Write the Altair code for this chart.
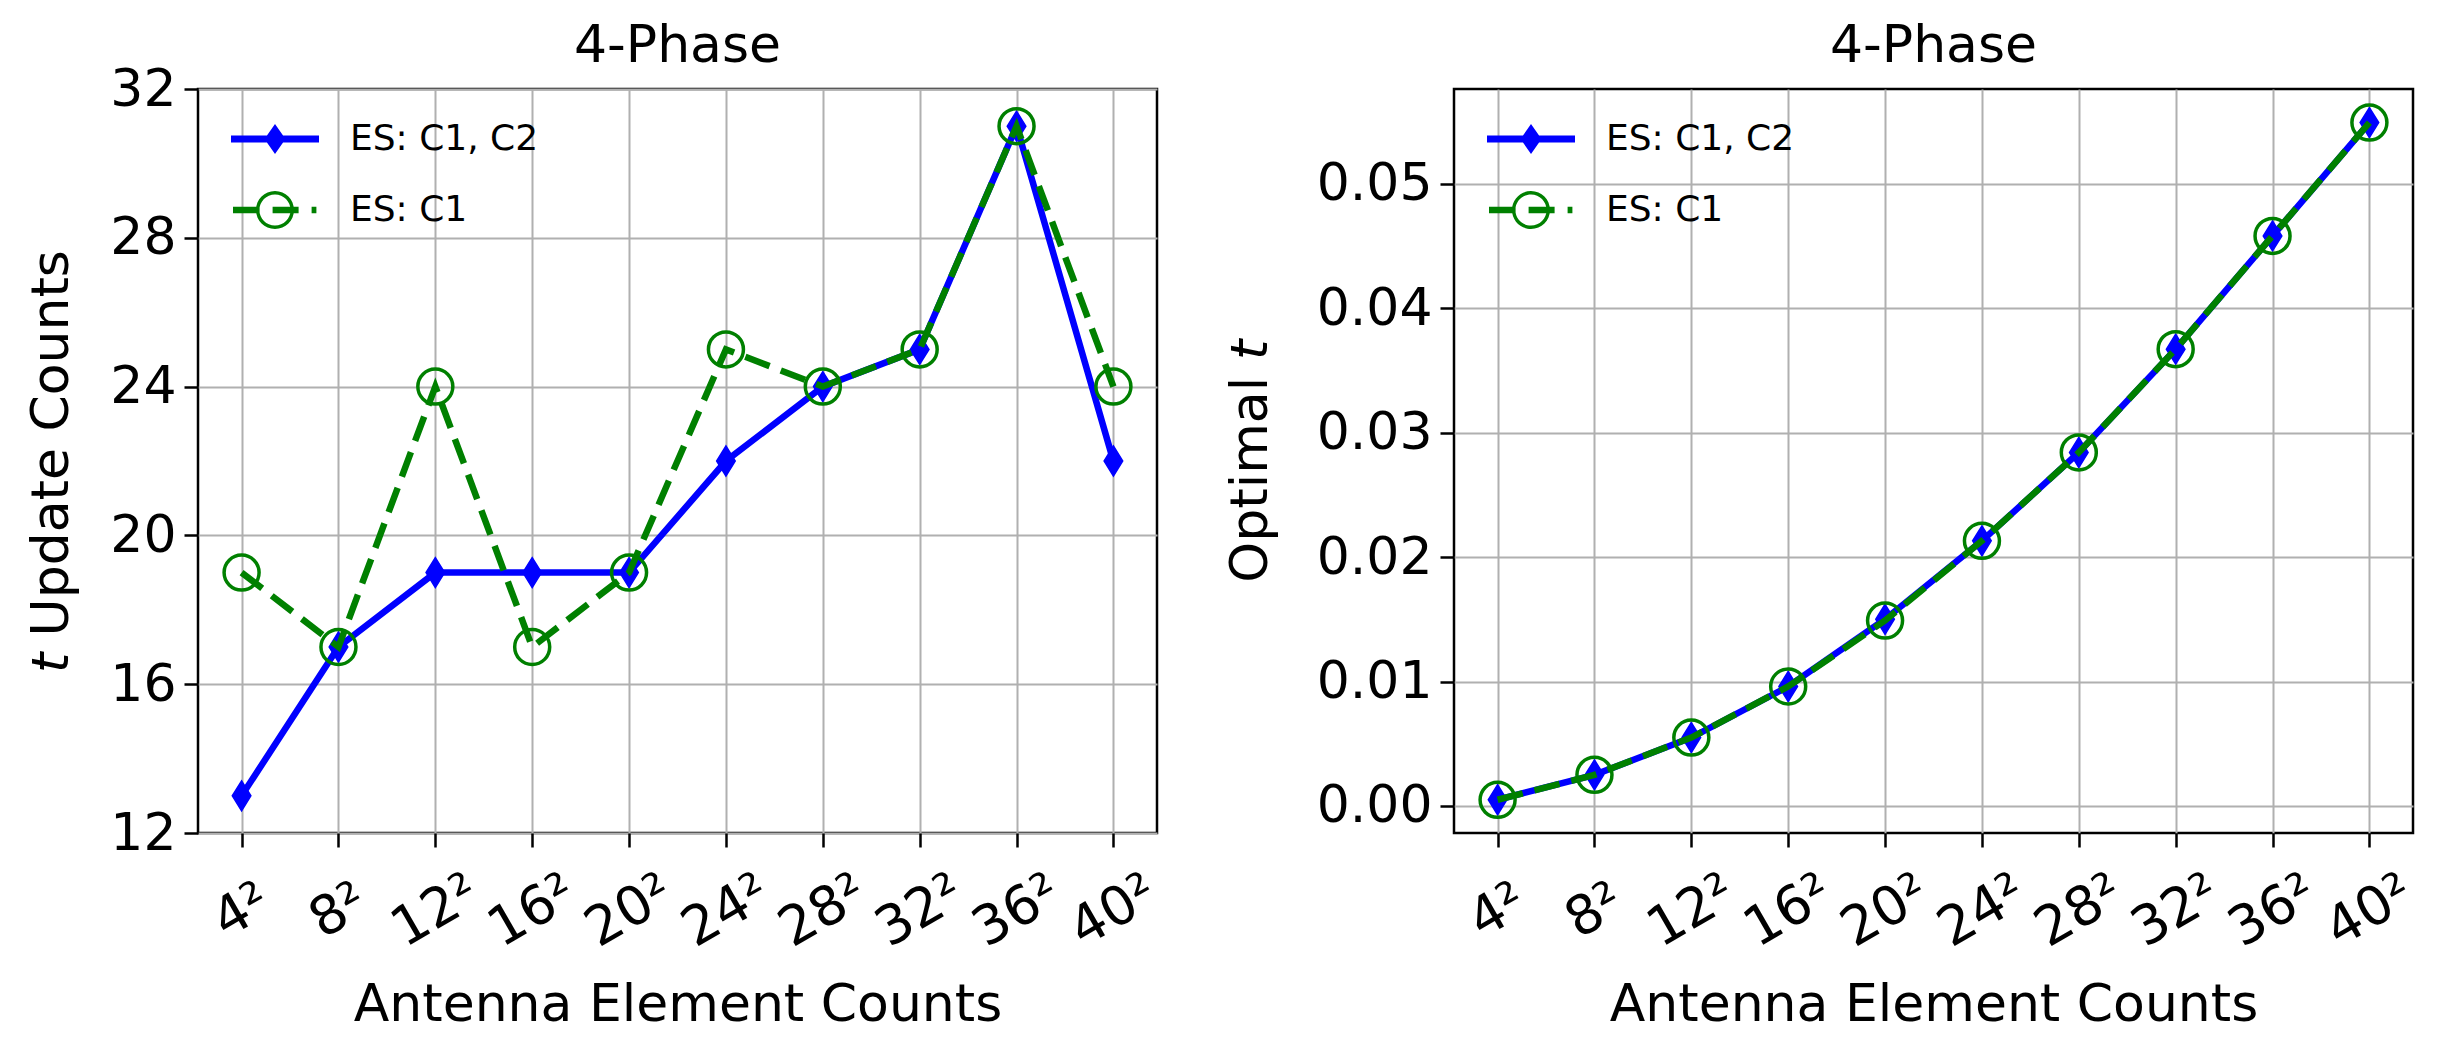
import altair as alt
import pandas as pd

# ---------------- data ----------------
x_labels = ["4²", "8²", "12²", "16²", "20²", "24²", "28²", "32²", "36²", "40²"]
series_names = ["ES: C1, C2", "ES: C1"]

update_counts_c1c2 = [13, 17, 19, 19, 19, 22, 24, 25, 31, 22]
update_counts_c1 = [19, 17, 24, 17, 19, 25, 24, 25, 31, 24]

optimal_t_c1c2 = [0.0005, 0.0025, 0.0055, 0.0096, 0.0150, 0.0213, 0.0284, 0.0367, 0.0458, 0.0549]
optimal_t_c1 = [0.0005, 0.0025, 0.0055, 0.0096, 0.0149, 0.0213, 0.0284, 0.0367, 0.0458, 0.0549]

left_ticks = [12, 16, 20, 24, 28, 32]
right_ticks = [0.0, 0.01, 0.02, 0.03, 0.04, 0.05]

BLUE = "#0000ff"
GREEN = "#008000"
FONT = "DejaVu Sans"
W, H = 959, 744


def frame(values_a, values_b):
    rows = []
    for i, lab in enumerate(x_labels):
        rows.append({"idx": i, "label": lab, "series": series_names[0], "val": values_a[i]})
        rows.append({"idx": i, "label": lab, "series": series_names[1], "val": values_b[i]})
    return pd.DataFrame(rows)


def f(v):
    return f"{v:.3f}".rstrip("0").rstrip(".") if v != 0 else "0"


def circle(r, cw=True):
    k = 0.5523 * r
    if cw:
        return (f"M{f(r)},0C{f(r)},{f(k)} {f(k)},{f(r)} 0,{f(r)}"
                f"C{f(-k)},{f(r)} {f(-r)},{f(k)} {f(-r)},0"
                f"C{f(-r)},{f(-k)} {f(-k)},{f(-r)} 0,{f(-r)}"
                f"C{f(k)},{f(-r)} {f(r)},{f(-k)} {f(r)},0Z")
    return (f"M{f(r)},0C{f(r)},{f(-k)} {f(k)},{f(-r)} 0,{f(-r)}"
            f"C{f(-k)},{f(-r)} {f(-r)},{f(-k)} {f(-r)},0"
            f"C{f(-r)},{f(k)} {f(-k)},{f(r)} 0,{f(r)}"
            f"C{f(k)},{f(r)} {f(r)},{f(k)} {f(r)},0Z")


def rect(x0, x1, h):
    return f"M{f(x0)},{f(-h)}H{f(x1)}V{f(h)}H{f(x0)}Z"


DIAMOND = "M0,-1L0.62,0L0,1L-0.62,0Z"
LEG_BLUE = rect(-2.2, 2.2, 0.17) + "M0,-0.75L0.525,0L0,0.75L-0.525,0Z"
LEG_GREEN = (rect(-2.1, -0.77, 0.16) + rect(-0.12, 1.18, 0.16) + rect(1.83, 2.07, 0.16)
             + circle(0.95, True) + circle(0.78, False))

label_expr = "[" + ",".join("'" + s + "'" for s in x_labels) + "][datum.value]"


def panel(df, y_title, y_domain, y_ticks, y_fmt, title_x, title_dy):
    x = alt.X(
        "idx:Q",
        scale=alt.Scale(domain=[-0.45, 9.45], nice=False, zero=False),
        axis=alt.Axis(
            values=list(range(10)), labelExpr=label_expr, title="Antenna Element Counts",
            labelAngle=330, labelAlign="center", labelBaseline="middle", labelPadding=64,
            labelFontSize=54, labelOverlap=False, labelFlush=False,
            titleY=187, titleBaseline="alphabetic",
        ),
    )
    y = alt.Y(
        "val:Q",
        scale=alt.Scale(domain=y_domain, nice=False, zero=False),
        axis=alt.Axis(
            values=y_ticks, format=y_fmt, title=y_title, titleX=title_x, titleY=H / 2,
            titleAngle=270, titleAlign="center", titleBaseline="middle", labelPadding=8,
        ),
    )
    base = alt.Chart(df).encode(x=x, y=y)
    s0 = alt.datum.series == series_names[0]
    s1 = alt.datum.series == series_names[1]
    blue_line = base.transform_filter(s0).mark_line(color=BLUE, strokeWidth=6.5)
    blue_pts = base.transform_filter(s0).mark_point(
        shape=DIAMOND, filled=True, fill=BLUE, stroke=BLUE, strokeWidth=1.5, size=900, opacity=1)
    green_line = base.transform_filter(s1).mark_line(color=GREEN, strokeWidth=6.5, strokeDash=[26, 12])
    green_pts = base.transform_filter(s1).mark_point(
        shape="circle", filled=False, color=GREEN, strokeWidth=3.5, size=1225, opacity=1)

    leg = alt.Legend(
        title=None, orient="none", legendX=57, legendY=30, labelFontSize=36, labelFont=FONT,
        labelColor="black", symbolStrokeWidth=0, symbolSize=1600, symbolOpacity=1,
        labelOffset=55, rowPadding=33, padding=0, labelLimit=600, direction="vertical",
    )
    leg_df = pd.DataFrame({"series": series_names, "idx": [None, None], "val": [None, None]})
    legend_layer = alt.Chart(leg_df).mark_point(filled=True, size=1600, opacity=1, strokeWidth=0).encode(
        x=x, y=y,
        shape=alt.Shape("series:N", scale=alt.Scale(domain=series_names, range=[LEG_BLUE, LEG_GREEN]), legend=leg),
        fill=alt.Fill("series:N", scale=alt.Scale(domain=series_names, range=[BLUE, GREEN]), legend=leg),
    )
    return alt.layer(blue_line, blue_pts, green_line, green_pts, legend_layer).properties(
        width=W, height=H,
        title=alt.TitleParams("4-Phase", fontSize=52, fontWeight="normal", font=FONT, color="black",
                              anchor="middle", frame="group", offset=33, baseline="alphabetic",
                              dy=title_dy),
    )


left = panel(frame(update_counts_c1c2, update_counts_c1), "𝘵 Update Counts", [12, 32], left_ticks, "d", -147, 84)
right = panel(frame(optimal_t_c1c2, optimal_t_c1), "Optimal 𝘵", [-0.00217, 0.0576], right_ticks, ".2f", -204, 58)

chart = (
    alt.hconcat(left, right, spacing=54)
    .resolve_scale(shape="independent", fill="independent")
    .resolve_legend(shape="independent", fill="independent")
    .properties(padding={"left": 15, "top": 10, "right": 5, "bottom": 5}, background="white")
    .configure_view(stroke="black", strokeWidth=2.5)
    .configure_axis(
        labelFont=FONT, titleFont=FONT, labelFontSize=52, titleFontSize=52, titleFontWeight="normal",
        labelColor="black", titleColor="black", gridColor="#b0b0b0", gridWidth=2, grid=True,
        tickColor="black", tickWidth=2.5, tickSize=14, domain=False,
    )
)

chart.save("out.html", embed_options={"renderer": "svg", "actions": False})
